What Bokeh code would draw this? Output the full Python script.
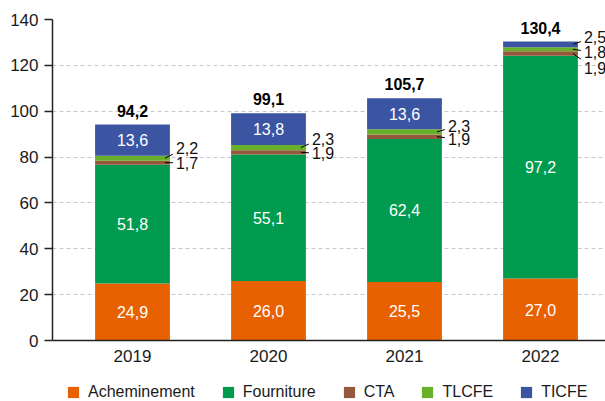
from bokeh.plotting import figure
from bokeh.layouts import column
from bokeh.models import (ColumnDataSource, Legend, LegendItem, FixedTicker,
                          Range1d)
from bokeh.core.properties import value
from bokeh.embed import file_html
from bokeh.resources import INLINE

# ---- data ----
years = ["2019", "2020", "2021", "2022"]
acheminement = [24.9, 26.0, 25.5, 27.0]
fourniture = [51.8, 55.1, 62.4, 97.2]
cta = [1.7, 1.9, 1.9, 1.9]
tlcfe = [2.2, 2.3, 2.3, 1.8]
ticfe = [13.6, 13.8, 13.6, 2.5]
totals = [94.2, 99.1, 105.7, 130.4]

series = ["Acheminement", "Fourniture", "CTA", "TLCFE", "TICFE"]
colors = ["#E86100", "#009B4E", "#94583C", "#68B02A", "#3B55A3"]

# layout constants for outside labels (pixel offsets of label from segment centre)
outside_offsets = {
    (0, "TLCFE"): 10, (0, "CTA"): 0,
    (1, "TLCFE"): 9, (1, "CTA"): -1,
    (2, "TLCFE"): 6, (2, "CTA"): -2,
    (3, "TICFE"): 7, (3, "TLCFE"): -3, (3, "CTA"): -14,
}

FONT = "Liberation Sans"
BAR_W = 0.55
PX_X = 136.0               # pixels per x unit
W, H1, H2 = 605, 370, 31
LEFT = 52
FRAME_TOP, FRAME_BOTTOM = 19, 340
PX_Y = (FRAME_BOTTOM - FRAME_TOP) / 140.0
X0 = -(132 - LEFT) / PX_X

xs = list(range(len(years)))
data = dict(x=xs, Acheminement=acheminement, Fourniture=fourniture,
            CTA=cta, TLCFE=tlcfe, TICFE=ticfe)
src = ColumnDataSource(data)

p = figure(width=W, height=H1, output_backend="svg", toolbar_location=None,
           x_range=Range1d(X0, X0 + (W - LEFT) / PX_X),
           y_range=Range1d(0, 140),
           min_border_left=LEFT, min_border_right=0, min_border_top=FRAME_TOP,
           min_border_bottom=H1 - FRAME_BOTTOM)
p.outline_line_color = None
p.background_fill_color = "white"

p.vbar_stack(series, x="x", width=BAR_W, color=colors, source=src,
             line_color=None)

# ---- axes ----
p.xaxis.ticker = FixedTicker(ticks=xs)
p.xaxis.major_label_overrides = {i: y for i, y in enumerate(years)}
p.xaxis.major_tick_out = 0
p.xaxis.major_tick_in = 0
p.xaxis.minor_tick_line_color = None
p.xaxis.major_label_standoff = 9
p.yaxis.ticker = FixedTicker(ticks=list(range(0, 141, 20)))
p.yaxis.major_tick_out = 8
p.yaxis.major_tick_in = 0
p.yaxis.minor_tick_line_color = None
p.yaxis.major_label_standoff = 6
for ax in (p.xaxis, p.yaxis):
    ax.axis_line_color = "#222222"
    ax.axis_line_width = 1.5
    ax.major_tick_line_color = "#222222"
    ax.major_tick_line_width = 1.5
    ax.major_label_text_font = FONT
    ax.major_label_text_font_size = "17px"
    ax.major_label_text_color = "#1a1a1a"

p.xgrid.grid_line_color = None
p.ygrid.grid_line_color = "#c8c8c8"
p.ygrid.grid_line_dash = "4 3"
p.ygrid.grid_line_width = 1

# ---- labels ----
def fmt(v):
    return f"{v:.1f}".replace(".", ",")

in_x, in_y, in_t = [], [], []
out_x, out_y, out_t = [], [], []
lx0, ly0, lx1, ly1 = [], [], [], []
for i, x in enumerate(xs):
    base = 0.0
    for s in series:
        v = data[s][i]
        mid = base + v / 2
        if v >= 5:
            in_x.append(x); in_y.append(mid); in_t.append(fmt(v))
        else:
            off = outside_offsets.get((i, s), 0) / PX_Y
            right = x + BAR_W / 2
            out_x.append(right); out_y.append(mid + off); out_t.append(fmt(v))
            lx0.append(right - 5 / PX_X); ly0.append(mid)
            lx1.append(right + 3 / PX_X); ly1.append(mid + 0.4 * off)
        base += v

p.text(x=in_x, y=in_y, text=in_t, text_color="white",
       text_font=value(FONT), text_font_size="16px",
       text_align="center", text_baseline="middle")
p.segment(x0=lx0, y0=ly0, x1=lx1, y1=ly1, line_color="black", line_width=1)
p.text(x=out_x, y=out_y, text=out_t, text_color="#111111",
       text_font=value(FONT), text_font_size="16px", x_offset=6,
       text_align="left", text_baseline="middle")
p.text(x=xs, y=totals, text=[fmt(t) for t in totals], text_color="black",
       text_font=value(FONT), text_font_size="16px", text_font_style="bold",
       text_align="center", text_baseline="middle", y_offset=-14)

# ---- legend strip (separate small figure; proxy bars kept out of view) ----
lf = figure(width=W, height=H2, output_backend="svg", toolbar_location=None,
            x_range=Range1d(100, 101), y_range=Range1d(1000, 1001),
            x_axis_type=None, y_axis_type=None,
            min_border_left=LEFT, min_border_right=0, min_border_top=0,
            min_border_bottom=0)
lf.outline_line_color = None
lf.xgrid.grid_line_color = None
lf.ygrid.grid_line_color = None
proxies = lf.vbar_stack(series, x="x", width=BAR_W, color=colors, source=src,
                        line_color=None)
items = [LegendItem(label=s, renderers=[r]) for s, r in zip(series, proxies)]
legend = Legend(items=items, orientation="horizontal", location=(14, 0),
                glyph_width=14, glyph_height=14, label_standoff=8, spacing=26,
                label_text_font=FONT, label_text_font_size="16px",
                label_text_color="#1a1a1a",
                border_line_color=None, background_fill_alpha=0,
                padding=0, margin=0)
lf.add_layout(legend, "center")

layout = column(p, lf, spacing=0)
open("out.html", "w").write(file_html(layout, INLINE))
